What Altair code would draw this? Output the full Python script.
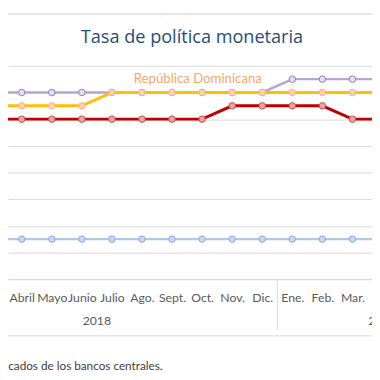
import altair as alt
import pandas as pd

# ---- data (Mar 2018 .. Abr 2019; index 0 = Ene. 2018) ----
month_index = [2, 3, 4, 5, 6, 7, 8, 9, 10, 11, 12, 13, 14, 15]
month_names = ["Ene.", "Feb.", "Mar.", "Abril", "Mayo", "Junio", "Julio",
               "Ago.", "Sept.", "Oct.", "Nov.", "Dic."]
honduras = [5.50, 5.50, 5.50, 5.50, 5.50, 5.50, 5.50, 5.50, 5.50, 5.50, 5.75, 5.75, 5.75, 5.75]
rep_dom = [5.25, 5.25, 5.25, 5.25, 5.50, 5.50, 5.50, 5.50, 5.50, 5.50, 5.50, 5.50, 5.50, 5.50]
costa_rica = [5.00, 5.00, 5.00, 5.00, 5.00, 5.00, 5.00, 5.00, 5.25, 5.25, 5.25, 5.25, 5.00, 5.00]
guatemala = [2.75] * 14
years = ["2018", "2019"]
year_centers = [5.5, 15]
year_separators = [-0.5, 11.5]

series = [
    ("Guatemala", guatemala, "#B4C7E7", "#C8D7EF", "#8EAADB", 2.5),
    ("Honduras", honduras, "#B4A7D6", "#E4DFEF", "#8E7CC3", 2.5),
    ("República Dominicana", rep_dom, "#FFC000", "#FBD3AE", "#F4B183", 3),
    ("Costa Rica", costa_rica, "#C00000", "#E8A3A3", "#C0504D", 3),
]

W, H = 372, 218
x_scale = alt.Scale(domain=[2.5444, 14.650], nice=False, zero=False)
y_scale = alt.Scale(domain=[2, 6], nice=False, zero=False)
grey = "#595959"

x_axis = alt.Axis(values=month_index, labelExpr="%s[datum.value %% 12]" % str(month_names),
                  ticks=False, grid=False, domainColor="#D9D9D9", labelColor=grey,
                  labelFont="Lato", labelFontSize=12.5, labelOverlap=False, labelFlush=False,
                  labelBaseline="middle", labelPadding=19, title=None)
y_axis = alt.Axis(values=[2, 2.5, 3, 3.5, 4, 4.5, 5, 5.5, 6], labels=False, ticks=False,
                  domain=False, gridColor="#D9D9D9", title=None)

X = lambda f: alt.X(f, scale=x_scale, axis=x_axis)
Y = lambda f: alt.Y(f, scale=y_scale, axis=y_axis)

layers = []
for name, vals, lc, fc, sc, sw in series:
    df = pd.DataFrame({"idx": month_index, "tpm": vals, "serie": name})
    base = alt.Chart(df)
    layers.append(base.mark_line(color=lc, strokeWidth=sw, clip=True).encode(
        x=X("idx:Q"), y=Y("tpm:Q")))
    layers.append(base.mark_point(filled=True, fill=fc, stroke=sc, strokeWidth=1, opacity=1,
                                  size=44, clip=True).encode(x=X("idx:Q"), y=Y("tpm:Q")))

# year labels and separators under the month labels
yr = pd.DataFrame({"idx": year_centers, "year": years})
layers.append(alt.Chart(yr).mark_text(font="Lato", fontSize=12.5, color=grey).encode(
    x=X("idx:Q"), y=alt.value(H + 43), text="year:N"))
sep = pd.DataFrame({"idx": year_separators})
layers.append(alt.Chart(sep).mark_rule(color="#D9D9D9", strokeWidth=1).encode(
    x=X("idx:Q"), y=alt.value(H), y2=alt.value(H + 52)))

# frame lines
one = pd.DataFrame({"a": [0]})
layers.append(alt.Chart(one).mark_rule(color="#D9D9D9", strokeWidth=1).encode(
    x=alt.value(0), x2=alt.value(W), y=alt.value(H + 58)))
layers.append(alt.Chart(one).mark_rule(color="#E6E6E6", strokeWidth=2).encode(
    x=alt.value(0), x2=alt.value(W), y=alt.value(-53)))

# title
layers.append(alt.Chart(pd.DataFrame({"t": ["Tasa de política monetaria"]})).mark_text(
    font="Open Sans", fontSize=18.5, color="#1F4E79", baseline="alphabetic").encode(
    x=alt.value(188), y=alt.value(-23), text="t:N"))

# annotation for República Dominicana
lab = pd.DataFrame({"idx": [8.857], "tpm": [5.743], "t": ["República Dominicana"]})
layers.append(alt.Chart(lab).mark_text(font="Lato", fontSize=13.5, color="#F4A868").encode(
    x=X("idx:Q"), y=Y("tpm:Q"), text="t:N"))

# source note (partly outside the visible crop)
src = pd.DataFrame({"t": ["Fuente: elaboración propia con base en comunicados de los bancos centrales."]})
layers.append(alt.Chart(src).mark_text(font="Lato", fontSize=12, color="#404040", align="right").encode(
    x=alt.value(158), y=alt.value(H + 89), text="t:N"))

chart = alt.layer(*layers).properties(
    width=W, height=H,
    autosize=alt.AutoSizeParams(type="none"),
    padding={"left": 0, "right": 0, "top": 55, "bottom": 99},
).configure_view(stroke=None)

chart.save("out.html", embed_options={"renderer": "svg", "actions": False})
